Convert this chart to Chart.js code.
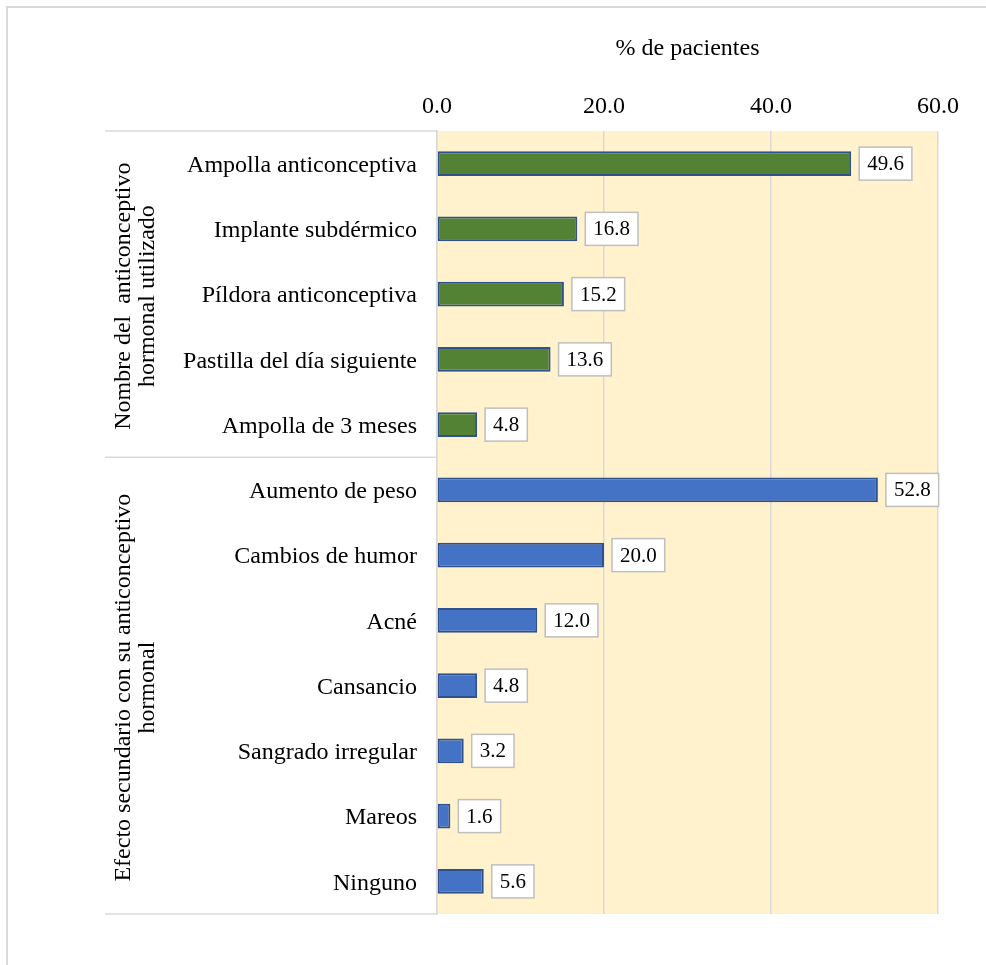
<!DOCTYPE html>
<html>
<head>
<meta charset="utf-8">
<script src="https://cdn.jsdelivr.net/npm/chart.js@4.4.1/dist/chart.umd.min.js"></script>
<style>
  html, body { margin: 0; padding: 0; background: #fff; }
  #frame { position: absolute; left: 6px; top: 6px; width: 1000px; height: 1000px;
           border-left: 2px solid #D9D9D9; border-top: 2px solid #D9D9D9; }
  #wrap { position: absolute; left: 0; top: 0; width: 986px; height: 965px; }
</style>
</head>
<body>
<div id="frame"></div>
<div id="wrap"><canvas id="chart" width="986" height="965"></canvas></div>
<script>
// ── Data ──────────────────────────────────────────────────
const categories = [
  'Ampolla anticonceptiva', 'Implante subdérmico', 'Píldora anticonceptiva',
  'Pastilla del día siguiente', 'Ampolla de 3 meses',
  'Aumento de peso', 'Cambios de humor', 'Acné', 'Cansancio',
  'Sangrado irregular', 'Mareos', 'Ninguno'
];
const percentages = [49.6, 16.8, 15.2, 13.6, 4.8, 52.8, 20.0, 12.0, 4.8, 3.2, 1.6, 5.6];
const groupNames = [
  ['Nombre del  anticonceptivo', 'hormonal utilizado'],
  ['Efecto secundario con su anticonceptivo', 'hormonal']
];
const groupSizes = [5, 7];
const xTicks = [0, 20, 40, 60];

const FONT = "'Liberation Serif', 'Times New Roman', serif";
const GREEN = '#548235', BLUE = '#4472C4', EDGE = '#2F528F';
const LINE = '#D9D9D9';

const barColors = [];
groupSizes.forEach((n, g) => { for (let i = 0; i < n; i++) barColors.push(g === 0 ? GREEN : BLUE); });

// ── Plugins ───────────────────────────────────────────────
const plotBackground = {
  id: 'plotBackground',
  beforeDraw(chart) {
    const { ctx, chartArea: a } = chart;
    ctx.save();
    ctx.fillStyle = '#FFF2CC';
    ctx.fillRect(a.left, a.top, a.right - a.left, a.bottom - a.top);
    ctx.restore();
  }
};

// value boxes to the right of each bar
const valueBoxes = {
  id: 'valueBoxes',
  afterDatasetsDraw(chart) {
    const { ctx } = chart;
    const meta = chart.getDatasetMeta(0);
    ctx.save();
    ctx.font = '21px ' + FONT;
    ctx.textAlign = 'center';
    ctx.textBaseline = 'middle';
    meta.data.forEach((bar, i) => {
      const txt = percentages[i].toFixed(1);
      const w = ctx.measureText(txt).width + 16;
      const h = 33;
      const x = bar.x + 8;
      const y = bar.y - h / 2;
      ctx.fillStyle = '#fff';
      ctx.fillRect(x, y, w, h);
      ctx.strokeStyle = '#BFBFBF';
      ctx.lineWidth = 1.5;
      ctx.strokeRect(x, y, w, h);
      ctx.fillStyle = '#000';
      ctx.fillText(txt, x + w / 2, bar.y + 1);
    });
    ctx.restore();
  }
};

// group separators and rotated group titles on the left
const groupAxis = {
  id: 'groupAxis',
  afterDraw(chart) {
    const { ctx, chartArea: a, scales: { y } } = chart;
    const left = 105;
    const bounds = [a.top];
    let idx = 0;
    groupSizes.forEach((n, g) => {
      idx += n;
      bounds.push(g === groupSizes.length - 1 ? a.bottom
        : (y.getPixelForValue(idx - 1) + y.getPixelForValue(idx)) / 2);
    });
    ctx.save();
    ctx.strokeStyle = LINE;
    ctx.lineWidth = 1.5;
    bounds.forEach(b => {
      ctx.beginPath();
      ctx.moveTo(left, b);
      ctx.lineTo(a.left, b);
      ctx.stroke();
    });
    ctx.fillStyle = '#000';
    ctx.font = '24px ' + FONT;
    ctx.textAlign = 'center';
    ctx.textBaseline = 'middle';
    groupNames.forEach((lines, g) => {
      const cy = (bounds[g] + bounds[g + 1]) / 2;
      ctx.save();
      ctx.translate(136, cy + 2);
      ctx.rotate(-Math.PI / 2);
      lines.forEach((t, k) => ctx.fillText(t, 0, (k - (lines.length - 1) / 2) * 24));
      ctx.restore();
    });
    ctx.restore();
  }
};

// ── Chart ─────────────────────────────────────────────────
new Chart(document.getElementById('chart').getContext('2d'), {
  type: 'bar',
  data: {
    labels: categories,
    datasets: [{
      data: percentages,
      backgroundColor: barColors,
      borderColor: EDGE,
      borderWidth: 2,
      borderSkipped: false,
      barPercentage: 0.38,
      categoryPercentage: 1
    }]
  },
  options: {
    indexAxis: 'y',
    responsive: false,
    animation: false,
    devicePixelRatio: 1,
    layout: { padding: { left: 0, top: 0, right: 48, bottom: 51 } },
    plugins: { legend: { display: false }, tooltip: { enabled: false } },
    scales: {
      x: {
        position: 'top',
        min: 0, max: 60,
        afterBuildTicks: s => { s.ticks = xTicks.map(v => ({ value: v })); },
        afterFit: s => { s.height = 131; },
        ticks: {
          color: '#000', padding: 10,
          font: { family: FONT, size: 24 },
          callback: v => Number(v).toFixed(1)
        },
        grid: { color: LINE, lineWidth: 1.5, drawTicks: false },
        border: { display: false },
        title: {
          display: true, text: '% de pacientes', color: '#000',
          font: { family: FONT, size: 24 },
          padding: { top: 34, bottom: 0 }
        }
      },
      y: {
        afterFit: s => { s.width = 437; },
        ticks: { color: '#000', padding: 20, labelOffset: 2, font: { family: FONT, size: 24 } },
        grid: { display: false, drawTicks: false },
        border: { display: true, color: LINE, width: 1.5 }
      }
    }
  },
  plugins: [plotBackground, valueBoxes, groupAxis]
});
</script>
</body>
</html>
